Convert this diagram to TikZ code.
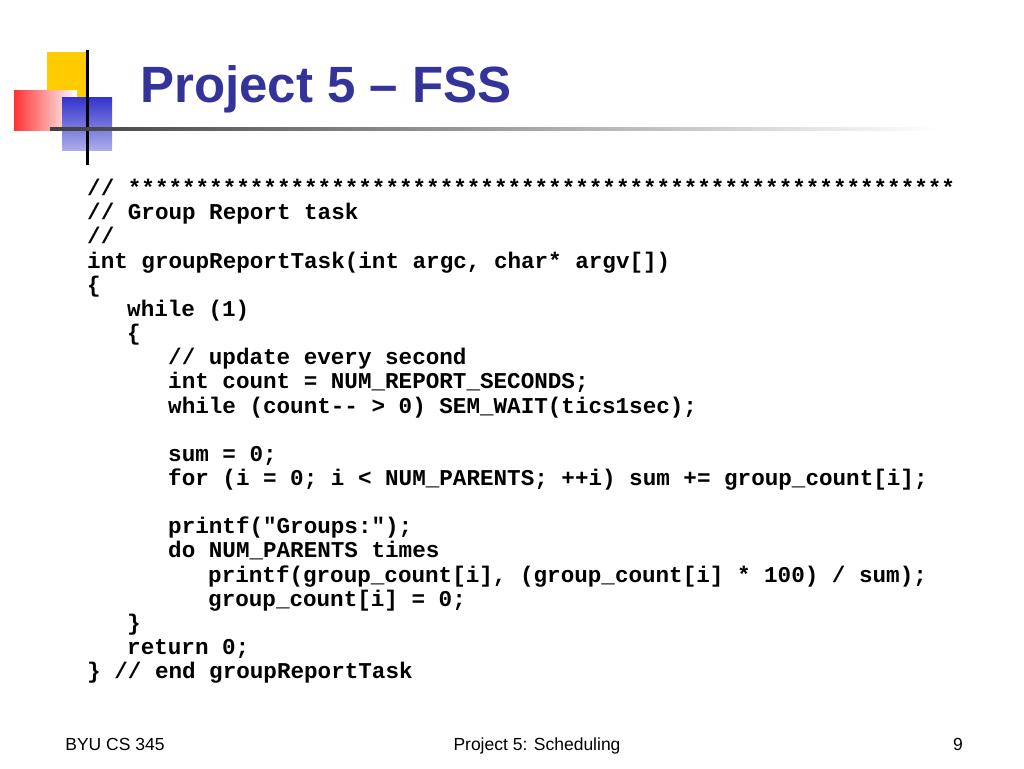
\documentclass[tikz,border=0pt]{standalone}
\usepackage{fontspec}
\setmainfont{Liberation Sans}
\setmonofont{Liberation Mono}
\usetikzlibrary{positioning}
\definecolor{titleblue}{HTML}{333399}
\definecolor{logoyellow}{HTML}{FFCC00}
\definecolor{logoblue}{HTML}{3333CC}
\definecolor{logored}{HTML}{FF3333}
\begin{document}
\begin{tikzpicture}[x=1pt,y=-1pt,
   code/.style={anchor=base west,inner sep=0pt,font=\ttfamily\bfseries\fontsize{22.6}{24}\selectfont},
   foot/.style={anchor=base,inner sep=0pt,font=\fontsize{17.5}{20}\selectfont}]
\useasboundingbox (0,0) rectangle (1024,768);
% logo
\fill[logoyellow] (47,52) rectangle (87,112);
\shade[left color=logored,right color=white] (14,90) rectangle (77,130);
\shade[top color=logoblue,bottom color=logoblue!40] (62,97) rectangle (112,150);
\draw[line width=3pt] (87,50) -- (87,165);
\shade[left color=black!75,right color=white] (50,127) rectangle (940,130);
% title
\node[anchor=base west,inner sep=0pt,text=titleblue,font=\bfseries\fontsize{51}{53}\selectfont] (title) at (140,102) {Project 5 – FSS};
% code
\node[code] (l1) at (87,195) {// *************************************************************};
\node[code] (l2) at (87,219) {// Group Report task};
\node[code] (l3) at (87,243) {//};
\node[code] (l4) at (87,268) {int groupReportTask(int argc, char* argv[])};
\node[code] (l5) at (87,292) {\{};
\node[code] (l6) at (127,316) {while (1)};
\node[code] (l7) at (127,340) {\{};
\node[code] (l8) at (168,364) {// update every second};
\node[code] (l9) at (168,388) {int count = NUM\_REPORT\_SECONDS;};
\node[code] (l10) at (168,413) {while (count-- > 0) SEM\_WAIT(tics1sec);};
\node[code] (l11) at (168,461) {sum = 0;};
\node[code] (l12) at (168,485) {for (i = 0; i < NUM\_PARENTS; ++i) sum += group\_count[i];};
\node[code] (l13) at (168,533) {printf("Groups:");};
\node[code] (l14) at (168,557) {do NUM\_PARENTS times};
\node[code] (l15) at (208,582) {printf(group\_count[i], (group\_count[i] * 100) / sum);};
\node[code] (l16) at (208,606) {group\_count[i] = 0;};
\node[code] (l17) at (127,630) {\}};
\node[code] (l18) at (127,654) {return 0;};
\node[code] (l19) at (87,678) {\} // end groupReportTask};
% footer
\node[foot] (f1) at (115,750) {BYU CS 345};
\node[foot] (f2) at (537,750) {Project 5: Scheduling};
\node[foot] (f3) at (958,750) {9};
\end{tikzpicture}
\end{document}
